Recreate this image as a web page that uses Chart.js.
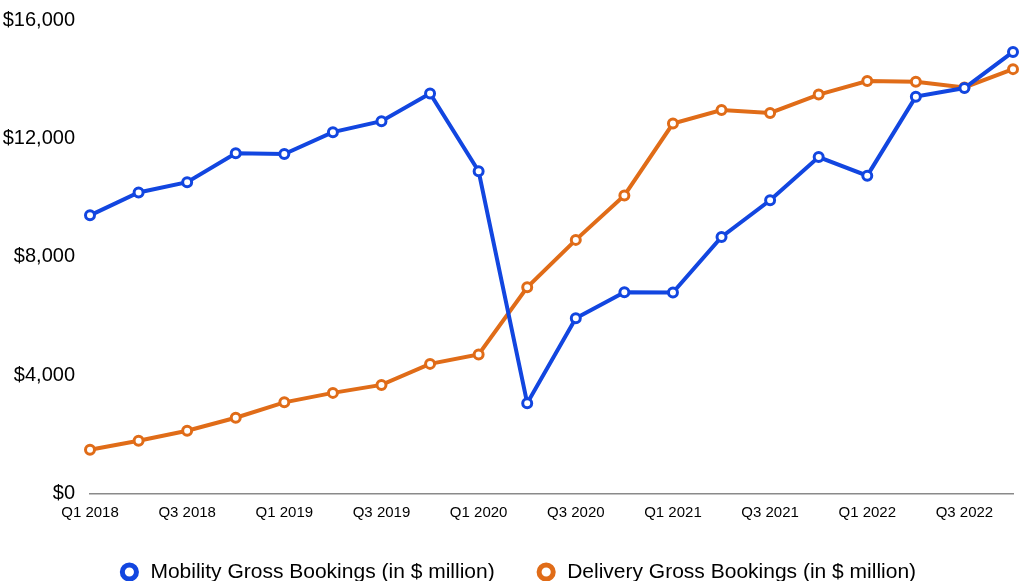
<!DOCTYPE html>
<html>
<head>
<meta charset="utf-8">
<script src="https://cdn.jsdelivr.net/npm/chart.js@4"></script>
<style>
  html, body { margin: 0; padding: 0; background: #fff; }
  #wrap { width: 1023px; height: 581px; }
</style>
</head>
<body>
<div id="wrap"><canvas id="chart1"></canvas></div>
<script>
// quarters Q1 2018 .. Q4 2022
const quarters = ['Q1 2018', 'Q2 2018', 'Q3 2018', 'Q4 2018',
                  'Q1 2019', 'Q2 2019', 'Q3 2019', 'Q4 2019',
                  'Q1 2020', 'Q2 2020', 'Q3 2020', 'Q4 2020',
                  'Q1 2021', 'Q2 2021', 'Q3 2021', 'Q4 2021',
                  'Q1 2022', 'Q2 2022', 'Q3 2022', 'Q4 2022'];

const mobility = [9400, 10170, 10520, 11500, 11470, 12210, 12580, 13520,
                  10890, 3050, 5920, 6800, 6790, 8670, 9910, 11370,
                  10740, 13410, 13700, 14920];

const delivery = [1480, 1780, 2120, 2560, 3080, 3400, 3670, 4380,
                  4700, 6970, 8570, 10070, 12500, 12960, 12860, 13480,
                  13940, 13910, 13720, 14340];

const yTicks = [0, 4000, 8000, 12000, 16000];

const blue = '#1246E0';
const orange = '#E06C18';
const font = 'Liberation Sans, Arial, sans-serif';

function lineSet(label, data, color) {
    return {
        label: label,
        data: data,
        borderColor: color,
        backgroundColor: '#fff',
        borderWidth: 4,
        pointRadius: 4.5,
        pointBorderWidth: 3,
        pointBackgroundColor: '#fff',
        pointBorderColor: color,
        tension: 0
    };
}

// nudge the legend a bit right, like the original
const legendShift = {
    id: 'legendShift',
    afterLayout(chart) {
        if (chart.legend) chart.legend.left += 17;
    }
};

document.addEventListener('DOMContentLoaded', function () {
    const ctx = document.getElementById('chart1').getContext('2d');
    new Chart(ctx, {
        type: 'line',
        data: {
            labels: quarters,
            datasets: [
                lineSet('Mobility Gross Bookings (in $ million)', mobility, blue),
                lineSet('Delivery Gross Bookings (in $ million)', delivery, orange)
            ]
        },
        plugins: [legendShift],
        options: {
            responsive: true,
            maintainAspectRatio: false,
            animation: false,
            layout: { padding: { left: 0, right: 5, top: 0, bottom: -11.5 } },
            plugins: {
                tooltip: { enabled: false },
                legend: {
                    position: 'bottom',
                    labels: {
                        usePointStyle: true,
                        boxWidth: 21,
                        boxHeight: 10,
                        padding: 41,
                        color: '#000',
                        font: { family: font, size: 21 },
                        generateLabels: function (chart) {
                            const items = Chart.defaults.plugins.legend.labels.generateLabels(chart);
                            items.forEach(it => { it.lineWidth = 5; });
                            return items;
                        }
                    }
                }
            },
            scales: {
                x: {
                    offset: false,
                    grid: { display: false, drawTicks: false },
                    border: { display: true, color: '#8a8a8a', width: 1.5 },
                    afterFit: function (scale) { scale.height = 27; },
                    ticks: {
                        autoSkip: false,
                        maxRotation: 0,
                        padding: 10,
                        color: '#000',
                        font: { family: font, size: 15 },
                        callback: function (v, i) { return i % 2 === 0 ? quarters[i] : ''; }
                    }
                },
                y: {
                    min: 0,
                    max: 16000,
                    grid: { display: false, drawTicks: false },
                    border: { display: false },
                    afterFit: function (scale) {
                        scale.width = 90;
                        scale.paddingTop = 20;
                    },
                    afterBuildTicks: function (scale) {
                        scale.ticks = yTicks.map(v => ({ value: v }));
                    },
                    ticks: {
                        padding: 15,
                        color: '#000',
                        font: { family: font, size: 20 },
                        callback: function (v) { return '$' + v.toLocaleString('en-US'); }
                    }
                }
            }
        }
    });
});
</script>
</body>
</html>
